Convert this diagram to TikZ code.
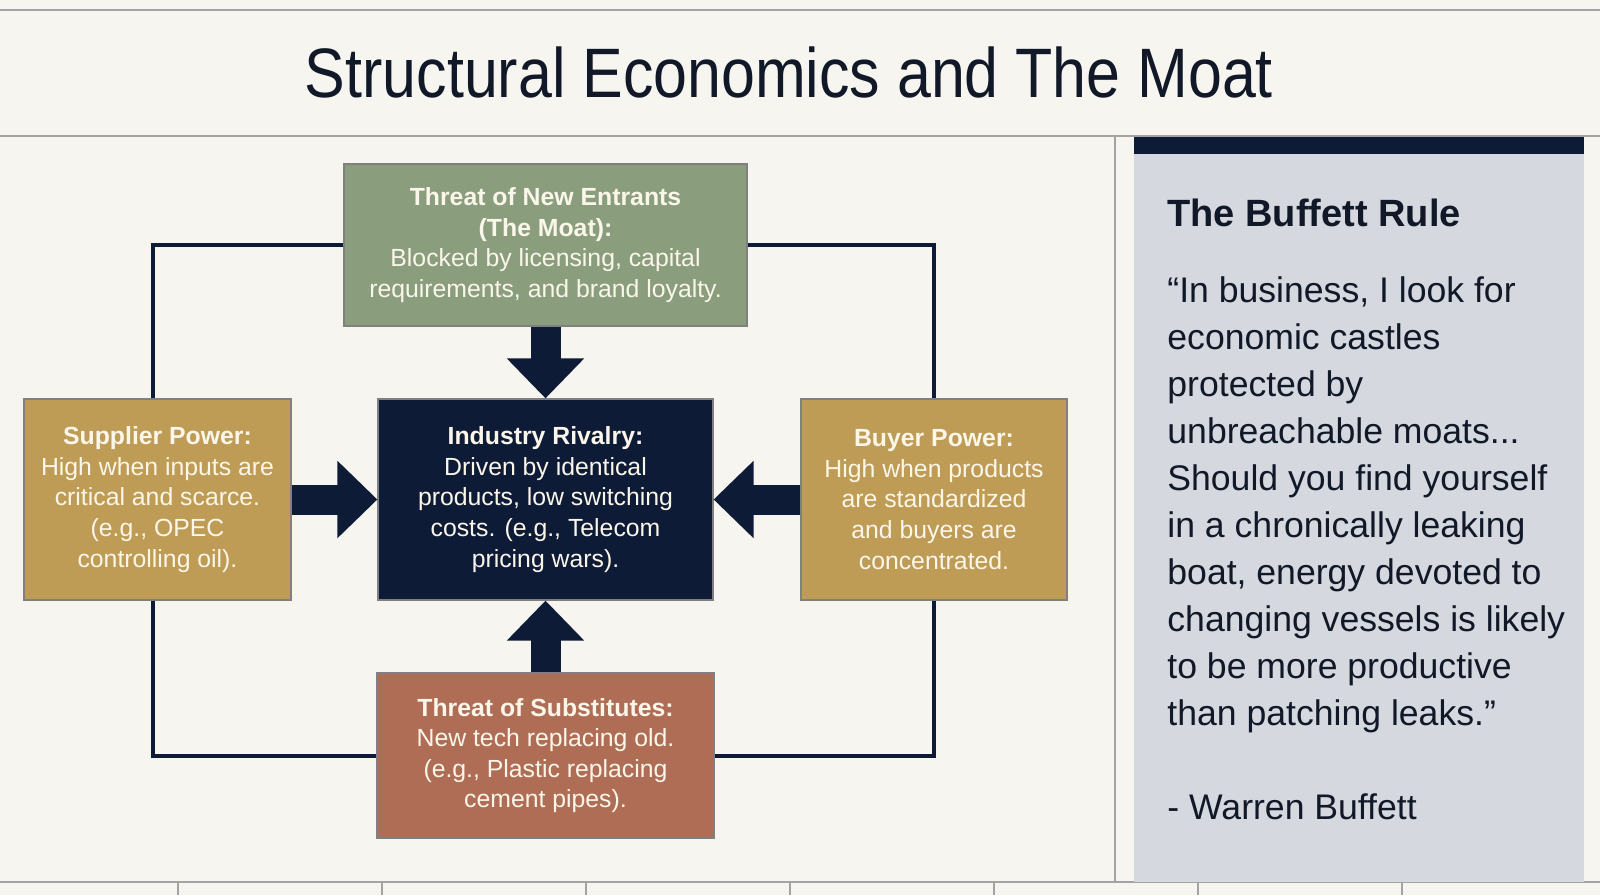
\documentclass[tikz,border=0pt]{standalone}
\usepackage{fontspec}
\setmainfont{Liberation Sans}
\newfontfamily\headfont{Liberation Sans}[FakeStretch=0.87]
\usepackage{tikz}
\usetikzlibrary{arrows.meta,positioning}

\definecolor{paper}{HTML}{F6F5F0}
\definecolor{navy}{HTML}{0E1B36}
\definecolor{inkdark}{HTML}{111827}
\definecolor{rulegray}{HTML}{A3A3A3}
\definecolor{panelgray}{HTML}{D5D8DE}
\definecolor{moatgreen}{HTML}{8A9E7E}
\definecolor{powergold}{HTML}{BF9C55}
\definecolor{subclay}{HTML}{AF6D55}
\definecolor{boxtext}{HTML}{FBF6EA}

\tikzset{
  force/.style={draw=black!50,line width=0.6pt,text=boxtext,align=center,
    inner sep=0pt,font=\fontsize{12.4}{15.3}\selectfont},
  pusharrow/.style={navy,line width=15pt,-{Triangle[width=37.5pt,length=20pt]}},
  moatline/.style={navy,line width=2pt},
  hairline/.style={rulegray,line width=1pt}
}

\begin{document}
\begin{tikzpicture}[x=0.5pt,y=-0.5pt]
  \useasboundingbox (0,0) rectangle (1600,895);
  \fill[paper] (0,0) rectangle (1600,895);
  % page rules
  \draw[hairline] (0,10) -- (1600,10);
  \draw[hairline] (0,136) -- (1600,136);
  \draw[hairline] (0,882) -- (1600,882);
  \draw[hairline] (1115,136) -- (1115,882);
  \foreach \k in {0,...,6}
    \draw[hairline] ({177.5+204*\k},882) -- ({177.5+204*\k},895);
  \node[anchor=base,text=inkdark,font=\headfont\fontsize{35}{40}\selectfont]
    (title) at (789,97) {Structural Economics and The Moat};

  % five forces
  \node[force,fill=moatgreen,minimum width=201.5pt,minimum height=81pt]
    (entrants) at (545.5,245)
    {\textbf{Threat of New Entrants}\\\textbf{(The Moat):}\\
     Blocked by licensing, capital\\requirements, and brand loyalty.};
  \node[force,fill=navy,minimum width=167.5pt,minimum height=100.5pt]
    (rivalry) at (545.5,499.5)
    {\textbf{Industry Rivalry:}\\Driven by identical\\products, low switching\\
     costs. (e.g., Telecom\\pricing wars).};
  \node[force,fill=powergold,minimum width=133.5pt,minimum height=100.5pt]
    (supplier) at (157.5,499.5)
    {\textbf{Supplier Power:}\\High when inputs are\\critical and scarce.\\
     (e.g., OPEC\\controlling oil).};
  \node[force,fill=powergold,minimum width=133pt,minimum height=100.5pt]
    (buyer) at (934,499.5)
    {\textbf{Buyer Power:}\\High when products\\are standardized\\
     and buyers are\\concentrated.};
  \node[force,fill=subclay,minimum width=168.5pt,minimum height=82.5pt]
    (substitutes) at (545.5,755.5)
    {\textbf{Threat of Substitutes:}\\New tech replacing old.\\
     (e.g., Plastic replacing\\cement pipes).};

  % outer ring
  \draw[moatline] (entrants.west) -| ([xshift=-2.5pt]supplier.north);
  \draw[moatline] (entrants.east) -| (buyer.north);
  \draw[moatline] ([xshift=-2.5pt]supplier.south) |- (substitutes.west);
  \draw[moatline] (buyer.south) |- (substitutes.east);

  % pressure on the rivalry
  \draw[pusharrow] (entrants.south) -- (rivalry.north);
  \draw[pusharrow] (substitutes.north) -- (rivalry.south);
  \draw[pusharrow] (supplier.east) -- (rivalry.west);
  \draw[pusharrow] (buyer.west) -- (rivalry.east);

  % side panel
  \fill[panelgray] (1134,154) rectangle (1584,882);
  \fill[navy] (1134,137) rectangle (1584,154);
  \node[anchor=base west,inner sep=0pt,text=inkdark,
    font=\bfseries\fontsize{19}{23}\selectfont] (rulehead) at (1167,226)
    {The Buffett Rule};
  \node[anchor=north west,inner sep=0pt,align=left,text=inkdark,
    font=\fontsize{17.8}{23.5}\selectfont] (quote) at (1167,276)
    {“In business, I look for\\economic castles\\protected by\\
     unbreachable moats...\\Should you find yourself\\in a chronically leaking\\
     boat, energy devoted to\\changing vessels is likely\\to be more productive\\
     than patching leaks.”\\[23.5pt]- Warren Buffett};
\end{tikzpicture}
\end{document}
